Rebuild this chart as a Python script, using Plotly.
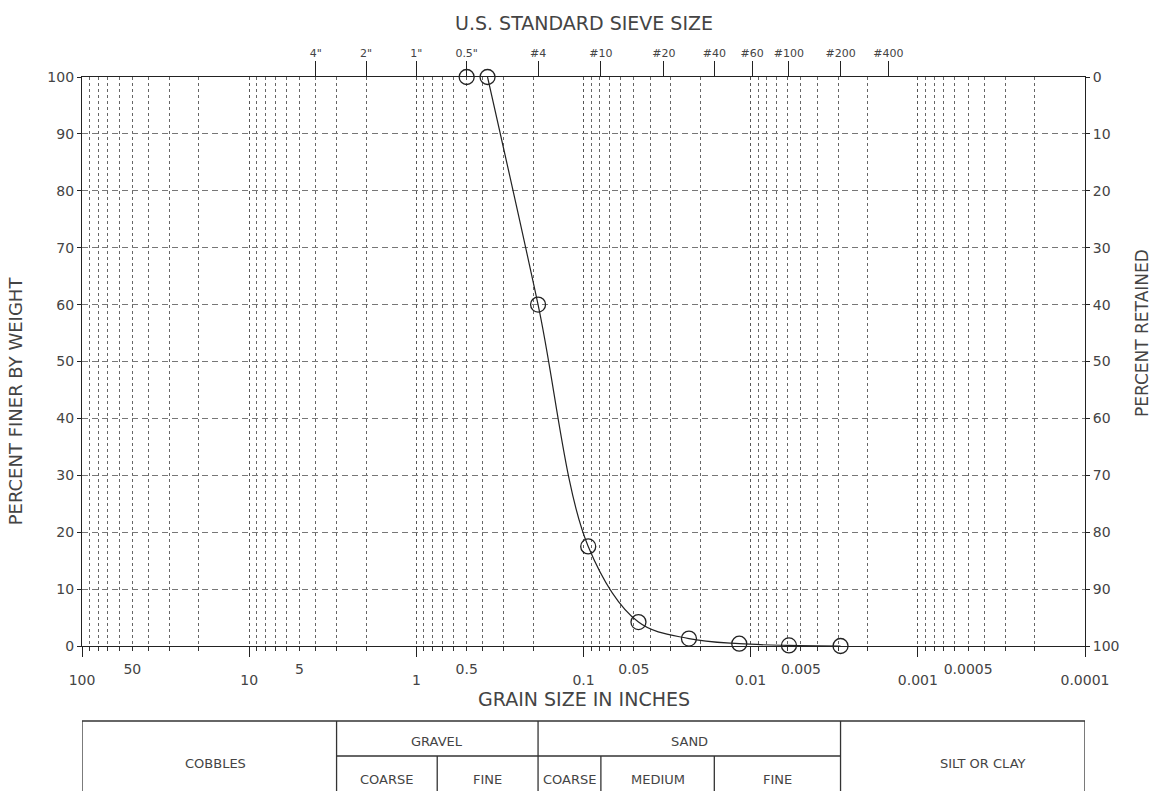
import math
import plotly.graph_objects as go

# ---------------- data ----------------
sieve_labels = ['4"', '2"', '1"', '0.5"', '#4', '#10', '#20', '#40', '#60', '#100', '#200', '#400']
sieve_sizes_in = [4, 2, 1, 0.5, 0.187, 0.0787, 0.0331, 0.0165, 0.0098, 0.0059, 0.0029, 0.0015]

grain_in = [0.5, 0.375, 0.187, 0.0937, 0.0469, 0.0234, 0.0117, 0.0059, 0.0029]
pct_finer = [100, 100, 60, 17.5, 4.2, 1.3, 0.4, 0.1, 0.0]

major_ticks = [100, 10, 1, 0.1, 0.01, 0.001, 0.0001]
major_labels = ['100', '10', '1', '0.1', '0.01', '0.001', '0.0001']
half_ticks = [50, 5, 0.5, 0.05, 0.005, 0.0005]
half_labels = ['50', '5', '0.5', '0.05', '0.005', '0.0005']

finer_ticks = [0, 10, 20, 30, 40, 50, 60, 70, 80, 90, 100]
retained_ticks = [0, 10, 20, 30, 40, 50, 60, 70, 80, 90, 100]

table_bounds = [100, 3, 0.75, 0.187, 0.0787, 0.0165, 0.0029, 0.0001]
table_top = ['COBBLES', 'GRAVEL', 'SAND', 'SILT OR CLAY']
table_sub = ['COARSE', 'FINE', 'COARSE', 'MEDIUM', 'FINE']

# ---------------- styling ----------------
FONT = "DejaVu Sans"
TXT = "#444444"
W, H = 1154, 791
ML, MR, MT, MB = 82, 69, 77, 145
PH = H - MT - MB
PW = W - ML - MR


def py(pix):
    """pixel row -> paper y"""
    return (H - MB - pix) / PH


minor_vals = [m * 10 ** k for k in range(-4, 2) for m in range(2, 10)]

fig = go.Figure()

# curve (smooth)
fig.add_trace(go.Scatter(
    x=grain_in[1:], y=pct_finer[1:], mode='lines',
    line=dict(color='#222222', width=1.2, shape='spline', smoothing=1.0),
    hoverinfo='skip', showlegend=False, cliponaxis=False))
# points
fig.add_trace(go.Scatter(
    x=grain_in, y=pct_finer, mode='markers',
    marker=dict(symbol='circle-open', size=15, color='#222222', line=dict(width=1.3, color='#222222')),
    showlegend=False, cliponaxis=False))
# helper traces for overlay axes
fig.add_trace(go.Scatter(x=[1], y=[50], xaxis='x2', yaxis='y', mode='markers',
                         marker=dict(opacity=0), showlegend=False, hoverinfo='skip'))
fig.add_trace(go.Scatter(x=[1], y=[50], xaxis='x3', yaxis='y', mode='markers',
                         marker=dict(opacity=0), showlegend=False, hoverinfo='skip'))
fig.add_trace(go.Scatter(x=[1], y=[50], xaxis='x', yaxis='y2', mode='markers',
                         marker=dict(opacity=0), showlegend=False, hoverinfo='skip'))

XR = [2, -4]

fig.update_layout(
    width=W, height=H,
    margin=dict(l=ML, r=MR, t=MT, b=MB),
    paper_bgcolor='white', plot_bgcolor='white',
    font=dict(family=FONT, color=TXT, size=14),
    xaxis=dict(
        type='log', range=XR, tickmode='array', tickvals=major_ticks, ticktext=major_labels,
        ticks='outside', ticklen=10, tickcolor='#222', tickwidth=1,
        showline=True, linecolor='#222', linewidth=1.3, mirror=True,
        showgrid=True, gridcolor='#555', griddash='3px,3px', gridwidth=1,
        tickfont=dict(size=14, color=TXT), ticklabelstandoff=11,
        minor=dict(tickmode='array', tickvals=minor_vals, ticks='outside', ticklen=4,
                   tickcolor='#333', showgrid=True, gridcolor='#666', griddash='3px,3px', gridwidth=1),
        zeroline=False,
    ),
    xaxis2=dict(
        type='log', range=XR, overlaying='x', side='top', anchor='y',
        tickmode='array', tickvals=sieve_sizes_in, ticktext=sieve_labels,
        ticks='outside', ticklen=15, tickcolor='#222', tickwidth=1.2,
        showgrid=False, showline=False, zeroline=False,
        tickfont=dict(size=11, color=TXT),
    ),
    xaxis3=dict(
        type='log', range=XR, overlaying='x', side='bottom', anchor='y',
        tickmode='array', tickvals=half_ticks, ticktext=half_labels,
        ticks='', showgrid=False, showline=False, zeroline=False,
        tickfont=dict(size=14, color=TXT), ticklabelstandoff=13,
    ),
    yaxis=dict(
        range=[0, 100], tickmode='array', tickvals=finer_ticks,
        ticks='outside', ticklen=4, tickcolor='#222',
        showline=True, linecolor='#222', linewidth=1.3, mirror=True,
        showgrid=True, gridcolor='#777', griddash='6px,4px', gridwidth=1,
        zeroline=False, tickfont=dict(size=14, color=TXT),
    ),
    yaxis2=dict(
        range=[100, 0], overlaying='y', side='right', anchor='x',
        tickmode='array', tickvals=retained_ticks,
        ticks='outside', ticklen=4, tickcolor='#222',
        showgrid=False, showline=False, zeroline=False,
        tickfont=dict(size=14, color=TXT),
    ),
)

TFS = 19
annotations = [
    dict(text='U.S. STANDARD SIEVE SIZE', xref='paper', yref='paper', x=0.5, y=py(23),
         showarrow=False, font=dict(size=TFS, color=TXT), yanchor='middle'),
    dict(text='GRAIN SIZE IN INCHES', xref='paper', yref='paper', x=0.5, y=py(699),
         showarrow=False, font=dict(size=TFS, color=TXT), yanchor='middle'),
    dict(text='PERCENT FINER BY WEIGHT', xref='paper', yref='paper', x=-67 / PW, y=0.43,
         textangle=-90, showarrow=False, font=dict(size=18, color=TXT), xanchor='center', yanchor='middle'),
    dict(text='PERCENT RETAINED', xref='paper', yref='paper', x=1 + 57 / PW, y=0.55,
         textangle=-90, showarrow=False, font=dict(size=17, color=TXT), xanchor='center', yanchor='middle'),
]

# ---------------- classification table ----------------
shapes = []
TY0, TYM, TY1 = 721, 756, 830
line_style = dict(color='#333', width=1.3)
shapes.append(dict(type='line', xref='x', yref='paper', x0=table_bounds[0], x1=table_bounds[-1],
                   y0=py(TY0), y1=py(TY0), line=line_style))
for i, b in enumerate(table_bounds):
    y0 = py(TY0) if i in (0, 1, 3, 6, 7) else py(TYM)
    shapes.append(dict(type='line', xref='x', yref='paper', x0=b, x1=b, y0=y0, y1=py(TY1), line=line_style))
shapes.append(dict(type='line', xref='x', yref='paper', x0=table_bounds[1], x1=table_bounds[6],
                   y0=py(TYM), y1=py(TYM), line=line_style))


def lmid(a, b):
    return (math.log10(a) + math.log10(b)) / 2


tbl_font = dict(size=13, color=TXT)
top_spans = [(0, 1, 763, 6), (1, 3, 741, 0), (3, 6, 741, 0), (6, 7, 763, 20)]
for name, (a, b, yy, xs) in zip(table_top, top_spans):
    annotations.append(dict(text=name, xref='x', yref='paper', x=lmid(table_bounds[a], table_bounds[b]),
                            y=py(yy), xshift=xs, showarrow=False, font=tbl_font, yanchor='middle'))
sub_spans = [(1, 2), (2, 3), (3, 4), (4, 5), (5, 6)]
for name, (a, b) in zip(table_sub, sub_spans):
    annotations.append(dict(text=name, xref='x', yref='paper', x=lmid(table_bounds[a], table_bounds[b]),
                            y=py(779), showarrow=False, font=tbl_font, yanchor='middle'))

fig.update_layout(annotations=annotations, shapes=shapes)

fig.write_html("out.html")
